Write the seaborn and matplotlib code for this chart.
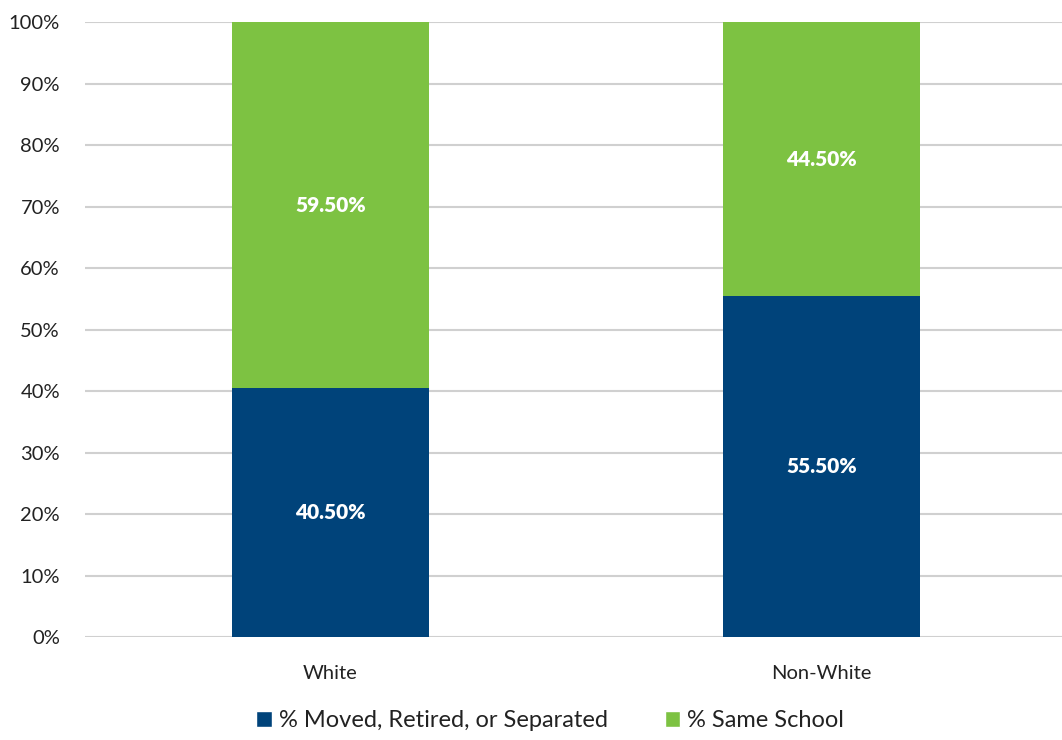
import matplotlib
matplotlib.use("Agg")
import matplotlib.pyplot as plt
import seaborn as sns
import pandas as pd
from matplotlib.patches import Patch
from matplotlib.ticker import FuncFormatter

categories = ["White", "Non-White"]
moved = [40.5, 55.5]
same = [59.5, 44.5]
series_names = ["% Moved, Retired, or Separated", "% Same School"]
yticks = [0, 10, 20, 30, 40, 50, 60, 70, 80, 90, 100]

BLUE = "#00437A"
GREEN = "#7DC242"

sns.set_theme(style="white")
plt.rcParams['font.family'] = ['Lato', 'DejaVu Sans']

fig = plt.figure(figsize=(10.62, 7.40), dpi=100)
ax = fig.add_axes([0.080, 0.139, 0.925, 0.831])

df = pd.DataFrame({"cat": categories, "moved": moved, "same": same})

sns.barplot(data=df, x="cat", y="moved", color=BLUE, width=0.4, ax=ax,
            saturation=1, zorder=3, linewidth=0, edgecolor="none")
sns.barplot(data=df, x="cat", y="same", color=GREEN, width=0.4, ax=ax,
            saturation=1, bottom=df["moved"].values, zorder=3, linewidth=0,
            edgecolor="none")

ax.set_xlim(-0.5, 1.5)
ax.set_ylim(0, 100)
ax.set_yticks(yticks)
ax.yaxis.set_major_formatter(FuncFormatter(lambda v, p: f"{int(v)}%"))
ax.grid(axis="y", color="#d0d0d0", linewidth=1.5, zorder=0)
ax.set_axisbelow(True)
for s in ax.spines.values():
    s.set_visible(False)
ax.set_xlabel("")
ax.set_ylabel("")
ax.tick_params(axis="y", labelsize=14.5, colors="#222222", pad=18, length=0)
ax.tick_params(axis="x", labelsize=14.5, colors="#222222", pad=20, length=0)

for i, (m, s_) in enumerate(zip(moved, same)):
    ax.text(i, m / 2, f"{m:.2f}%", ha="center", va="center", color="white",
            fontsize=15, fontweight="heavy", zorder=5)
    ax.text(i, m + s_ / 2, f"{s_:.2f}%", ha="center", va="center", color="white",
            fontsize=15, fontweight="heavy", zorder=5)

handles = [Patch(facecolor=BLUE, label=series_names[0]),
           Patch(facecolor=GREEN, label=series_names[1])]
fig.legend(handles=handles, loc="center", bbox_to_anchor=(0.518, 0.026), ncol=2,
           frameon=False, fontsize=17, handlelength=0.65, handleheight=0.65,
           handletextpad=0.3, columnspacing=2.4, labelcolor="#222222")

fig.savefig("out.png", dpi=100)
